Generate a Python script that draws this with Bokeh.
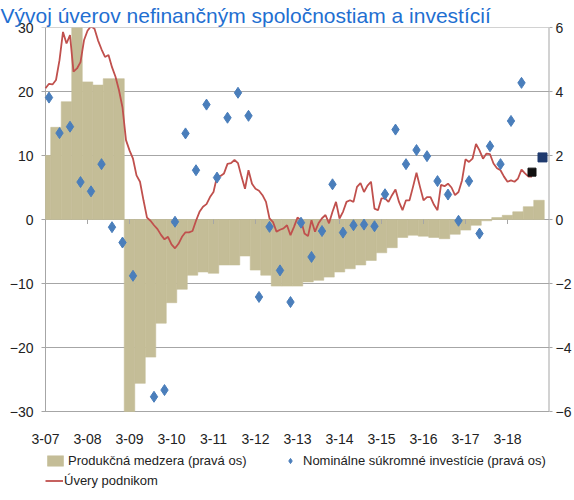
from bokeh.plotting import figure
from bokeh.models import Range1d, LinearAxis, FixedTicker, Legend, LegendItem
from bokeh.embed import file_html
from bokeh.resources import INLINE

title_text = "Vývoj úverov nefinančným spoločnostiam a investícií"
tick_labels = ["3-07", "3-08", "3-09", "3-10", "3-11", "3-12",
               "3-13", "3-14", "3-15", "3-16", "3-17", "3-18"]

# Produkčná medzera (right axis), quarterly Q1 2007 .. Q4 2018
gap = [2.0, 2.88, 3.68, 6.0, 4.3, 4.2, 4.4, 4.4,
       -6.0, -5.12, -4.3, -3.24, -2.6, -2.18, -1.74, -1.64,
       -1.68, -1.42, -1.42, -1.14, -1.58, -1.74, -2.08, -2.08,
       -2.08, -1.95, -1.9, -1.8, -1.64, -1.54, -1.42, -1.28,
       -1.04, -0.88, -0.56, -0.49, -0.52, -0.56, -0.6, -0.46,
       -0.33, -0.18, -0.04, 0.06, 0.13, 0.24, 0.4, 0.6]

# Nominálne súkromné investície (right axis), quarterly
invest = [3.81, 2.7, 2.9, 1.17, 0.88, 1.73, -0.24, -0.72,
          -1.76, float("nan"), -5.54, -5.33, -0.07, 2.69, 1.54, 3.59,
          1.31, 3.18, 3.96, 3.24, -2.42, -0.23, -1.59, -2.58,
          -0.1, -1.17, -0.36, 1.1, -0.41, -0.18, -0.16, -0.21,
          0.79, 2.81, 1.73, 2.17, 1.98, 1.2, 0.78, -0.04,
          1.2, -0.44, 2.29, 1.73, 3.08, 4.27]
# last two quarters shown as separate squares
invest_q3_18 = [1.48]
invest_q4_18 = [1.94]

# Úvery podnikom (left axis), monthly from 3-07
loans = [20.5, 21.2, 21.1, 21.8, 24.9, 29.3, 27.5, 28.8, 23.1, 23.6,
         24.6, 28.0, 29.5, 30.2, 29.8, 28.0, 26.6, 25.4, 25.7, 23.8,
         22.3, 20.2, 17.5, 12.4, 10.8, 9.5, 6.9, 5.9, 3.0, 0.3,
         -0.2, -0.9, -1.5, -2.4, -3.1, -2.7, -3.9, -4.5, -3.8, -2.7,
         -2.0, -2.0, -1.8, -0.2, 1.2, 2.0, 2.4, 3.5, 4.3, 6.7,
         6.8, 7.2, 8.7, 8.8, 9.3, 8.8, 6.7, 4.8, 7.7, 5.6,
         4.8, 4.5, 3.8, 2.75, 0.16, -0.4, -1.9, -1.6, -1.4, -0.9,
         -2.45, -1.15, 0.3, -0.1, -2.2, -2.6, -0.1, -1.9, -0.6, 0.2,
         0.7, -0.6, 1.2, 2.75, 0.16, 1.2, 2.75, 3.0, 2.75, 5.1,
         5.7, 4.3, 5.3, 5.9, 1.7, 1.45, 3.3, 3.3, 2.75, 3.8,
         4.7, 2.75, 1.45, 3.0, 3.0, 5.1, 7.3, 5.1, 3.0, 3.5,
         3.5, 2.3, 1.45, 5.4, 5.2, 5.6, 5.0, 3.8, 4.3, 6.1,
         9.4, 9.0, 9.5, 11.8, 10.8, 9.5, 10.3, 10.2, 8.75, 8.0,
         7.7, 6.7, 5.9, 6.1, 5.9, 6.4, 7.8, 7.2, 6.7, 6.7]

FONT = "Liberation Sans"
GRID = "#a6a6a6"
TXT = "#222222"

# geometry (pixels)
W, H = 574, 492
TOP, BOTTOM_BORDER = 27, 2
FRAME_LEFT, RIGHT_BORDER = 29, 25
AXIS_LEFT = 45               # where the value axis (month 0) sits
PLOT_BOTTOM = 411            # where the -30 / -6 line sits
LEFT_MAX, RIGHT_MAX = 30, 6
frame_bottom = H - BOTTOM_BORDER
frame_right = W - RIGHT_BORDER

n_months = 12 * len(tick_labels)
px_per_month = (frame_right - AXIS_LEFT) / n_months
x_lo = -(AXIS_LEFT - FRAME_LEFT) / px_per_month
px_per_unit = (PLOT_BOTTOM - TOP) / (2 * LEFT_MAX)
left_lo = LEFT_MAX - (frame_bottom - TOP) / px_per_unit
right_lo = left_lo * RIGHT_MAX / LEFT_MAX

q_c = [3 * i for i in range(len(gap))]
q_left = [max(0, c - 1.5) for c in q_c]
q_right = [c + 1.5 for c in q_c]
inv_x = [3 * i + 1 for i in range(len(invest))]
m_x = list(range(len(loans)))
tick_x = [12 * k for k in range(len(tick_labels))]
left_ticks = list(range(-LEFT_MAX, LEFT_MAX + 1, 10))
right_ticks = list(range(-RIGHT_MAX, RIGHT_MAX + 1, 2))

p = figure(width=W, height=H,
           min_border_left=FRAME_LEFT, min_border_right=RIGHT_BORDER,
           min_border_top=TOP, min_border_bottom=BOTTOM_BORDER,
           x_range=Range1d(x_lo, n_months), y_range=Range1d(left_lo, LEFT_MAX),
           output_backend="svg", toolbar_location=None)
p.extra_y_ranges = {"r": Range1d(right_lo, RIGHT_MAX)}
p.outline_line_color = None
p.background_fill_color = "white"
p.border_fill_color = "white"

# title
p.title.text = title_text
p.title.text_font = FONT
p.title.text_font_size = "21px"
p.title.text_font_style = "normal"
p.title.text_color = "#1f6fd1"
p.title.align = "left"
p.title.offset = -FRAME_LEFT
p.title.standoff = 2

# x axis fixed on the -30 line, labels under it
p.xaxis.fixed_location = -LEFT_MAX
p.xaxis.ticker = FixedTicker(ticks=tick_x)
p.xaxis.major_label_overrides = {t: l for t, l in zip(tick_x, tick_labels)}
p.xaxis.axis_line_color = None
p.xaxis.major_tick_line_color = None
p.xaxis.minor_tick_line_color = None
p.xaxis.major_label_standoff = 16
p.xaxis.major_label_text_font = FONT
p.xaxis.major_label_text_font_size = "14px"
p.xaxis.major_label_text_color = TXT
p.xgrid.visible = False

# left axis: labels only (ticks come from the grid segments)
p.yaxis.ticker = FixedTicker(ticks=left_ticks)
p.yaxis.axis_line_color = None
p.yaxis.major_tick_line_color = None
p.yaxis.major_tick_out = 0
p.yaxis.major_tick_in = 0
p.yaxis.minor_tick_line_color = None
p.yaxis.major_label_standoff = -(AXIS_LEFT - 12 - FRAME_LEFT)
p.yaxis.major_label_text_font = FONT
p.yaxis.major_label_text_font_size = "14px"
p.yaxis.major_label_text_color = TXT

ax_r = LinearAxis(y_range_name="r", ticker=FixedTicker(ticks=right_ticks))
ax_r.axis_line_color = None
ax_r.major_tick_line_color = GRID
ax_r.major_tick_out = 3
ax_r.major_tick_in = 0
ax_r.minor_tick_line_color = None
ax_r.major_label_standoff = 3
ax_r.major_label_text_font = FONT
ax_r.major_label_text_font_size = "14px"
ax_r.major_label_text_color = TXT
p.add_layout(ax_r, "right")
p.ygrid.visible = False

# horizontal grid lines (with short outward ticks on the left)
tick_len = 4 / px_per_month
p.segment(x0=[-tick_len] * len(left_ticks), y0=left_ticks,
          x1=[n_months] * len(left_ticks), y1=left_ticks,
          line_color=GRID, line_width=1)
# vertical axis lines (only over the value range)
p.segment(x0=[0, n_months], y0=[-LEFT_MAX] * 2, x1=[0, n_months], y1=[LEFT_MAX] * 2,
          line_color=GRID, line_width=[1, 2])

# bars
bars = p.quad(left=q_left, right=q_right, top=gap, bottom=0, y_range_name="r",
              fill_color="#c4bd97", line_color="#c4bd97", line_width=0.6)

# small tick marks on the zero line
p.segment(x0=tick_x, y0=[0] * len(tick_x), x1=tick_x, y1=[-0.7] * len(tick_x),
          line_color=GRID, line_width=1)

# loans line
ln = p.line(x=m_x, y=loans, line_color="#c0504d", line_width=1.8)

# investment diamonds
dia = p.scatter(x=inv_x, y=invest, y_range_name="r", marker="diamond",
                size=11, fill_color="#4a7ebb", line_color="#4a7ebb")
p.scatter(x=[3 * len(invest) + 1], y=invest_q3_18, y_range_name="r", marker="square",
          size=8, fill_color="#111111", line_color="#111111")
p.scatter(x=[3 * len(invest) + 4], y=invest_q4_18, y_range_name="r", marker="square",
          size=9, fill_color="#1f3a6e", line_color="#1f3a6e")

# legends in the lower strip of the frame
common = dict(orientation="horizontal", glyph_height=13, padding=0, margin=0,
              border_line_color=None, background_fill_alpha=0,
              label_text_font=FONT, label_text_font_size="13px",
              label_text_color=TXT, label_height=18)
leg1 = Legend(items=[LegendItem(label="Produkčná medzera (pravá os)", renderers=[bars]),
                     LegendItem(label="Nominálne súkromné investície (pravá os)", renderers=[dia])],
              location=(AXIS_LEFT - FRAME_LEFT, frame_bottom - 18 - 451),
              label_width=210, spacing=2, glyph_width=20, label_standoff=3, **common)
leg2 = Legend(items=[LegendItem(label="Úvery podnikom", renderers=[ln])],
              location=(AXIS_LEFT - FRAME_LEFT, frame_bottom - 18 - 471),
              glyph_width=18, label_standoff=1, **common)
p.add_layout(leg1)
p.add_layout(leg2)

open("out.html", "w").write(file_html(p, INLINE))
